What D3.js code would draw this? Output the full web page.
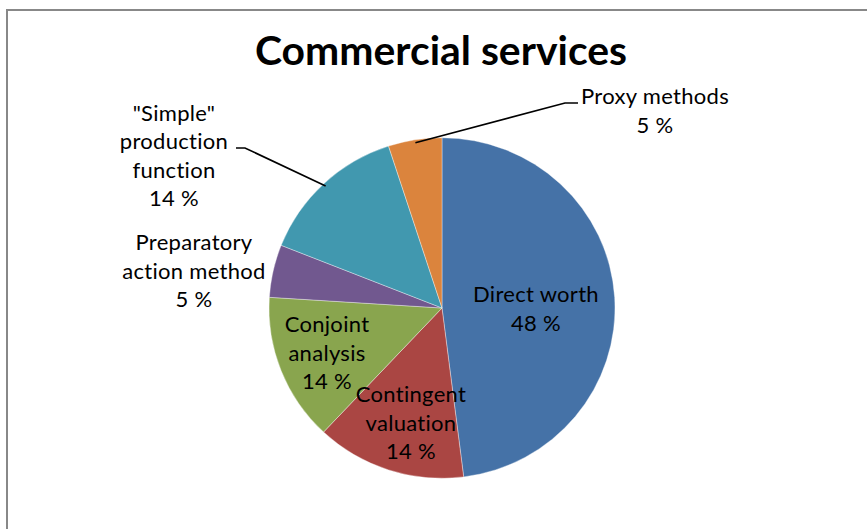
<!DOCTYPE html>
<html>
<head>
<meta charset="utf-8">
<script src="https://cdn.jsdelivr.net/npm/d3@7/dist/d3.min.js"></script>
<style>
  html, body { margin: 0; padding: 0; background: #fff; }
  svg { display: block; }
  text { font-family: Lato, "Open Sans", sans-serif; fill: #000; font-variant-ligatures: none; }
</style>
</head>
<body>
<svg id="chart" width="867" height="529"></svg>
<script>
// Share of valuation methods used for commercial services (percent)
const categories = [
  "Direct worth",
  "Contingent valuation",
  "Conjoint analysis",
  "Preparatory action method",
  "\"Simple\" production function",
  "Proxy methods"
];
const shares = [48, 14, 14, 5, 14, 5];
const labelLines = [
  ["Direct worth"],
  ["Contingent", "valuation"],
  ["Conjoint", "analysis"],
  ["Preparatory", "action method"],
  ["\"Simple\"", "production", "function"],
  ["Proxy methods"]
];
const sliceColors = ["#4572A7", "#AA4643", "#89A54E", "#71588F", "#4198AF", "#DB843D"];

// Label block centres and leader elbows (null = label sits inside its slice)
const labelAnchors = [[536, 309], [411, 423], [327, 353], [194, 271], [174, 156], [655, 111]];
const leaderElbows = [null, null, null, null, [[245, 148], [236, 148]], [[565, 103], [578, 103]]];

const svg = d3.select("#chart");
const W = 867, H = 529;
const cx = 442, cy = 308, R = 173, squash = 0.984;
const fontSize = 22, lineH = 28.5;

// Chart frame
svg.append("rect")
  .attr("x", 7).attr("y", 10)
  .attr("width", W + 20).attr("height", H + 20)
  .attr("fill", "none").attr("stroke", "#888").attr("stroke-width", 2);

// Title
svg.append("text")
  .attr("x", 441).attr("y", 65)
  .attr("text-anchor", "middle")
  .attr("font-size", 40).attr("font-weight", 700)
  .attr("textLength", 372).attr("lengthAdjust", "spacingAndGlyphs")
  .text("Commercial services");

const data = categories.map((c, i) => ({ name: c, value: shares[i], i }));
const pie = d3.pie().value(d => d.value).sort(null).startAngle(0).endAngle(2 * Math.PI);
const arcs = pie(data);
const arc = d3.arc().innerRadius(0).outerRadius(R);

const g = svg.append("g").attr("transform", `translate(${cx},${cy}) scale(1,${squash})`);
g.selectAll("path.slice")
  .data(arcs)
  .join("path")
  .attr("class", "slice")
  .attr("d", arc)
  .attr("fill", d => sliceColors[d.data.i])
  .attr("stroke", "rgba(255,255,255,0.45)")
  .attr("stroke-width", 0.8);

// Leader lines for labels placed outside the pie
arcs.forEach(a => {
  const elbows = leaderElbows[a.data.i];
  if (!elbows) return;
  const mid = (a.startAngle + a.endAngle) / 2;
  const r0 = R - 3;
  const start = [cx + r0 * Math.sin(mid), cy - r0 * Math.cos(mid) * squash];
  svg.append("path")
    .attr("d", d3.line()([start, ...elbows]))
    .attr("fill", "none").attr("stroke", "#000").attr("stroke-width", 1.6);
});

// Data labels: category name lines plus rounded share
arcs.forEach(a => {
  const i = a.data.i;
  const lines = labelLines[i].concat([`${a.data.value} %`]);
  const [lx, ly] = labelAnchors[i];
  const n = lines.length;
  const t = svg.append("text")
    .attr("text-anchor", "middle")
    .attr("font-size", fontSize)
    .attr("letter-spacing", 0.3);
  lines.forEach((s, k) => {
    t.append("tspan")
      .attr("x", lx)
      .attr("y", ly + (k - (n - 1) / 2) * lineH + 7.5)
      .text(s);
  });
});
</script>
</body>
</html>
